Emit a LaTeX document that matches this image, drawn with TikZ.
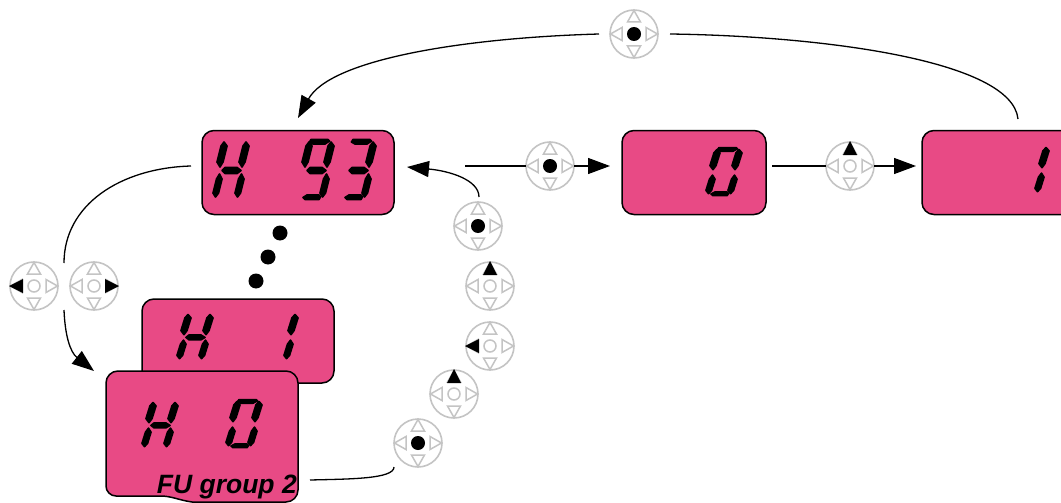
\documentclass[tikz,border=0pt]{standalone}
\usepackage{fontspec}
\setmainfont{Liberation Sans}
\usetikzlibrary{arrows.meta}
\definecolor{lcdpink}{HTML}{E84A85}
\definecolor{dialgray}{HTML}{C4C4C4}
\tikzset{
  display/.style={draw=black,line width=1.5pt,fill=lcdpink,rounded corners=12pt,inner sep=0pt},
  dialring/.style={circle,draw=dialgray,line width=1.6pt,fill=white,minimum size=48pt,inner sep=0pt},
  conn/.style={line width=1.3pt,draw=black},
  tipped/.style={conn,-{Triangle[length=22pt,width=16pt]}},
  seg/.style={fill=black,draw=black,line width=1.7pt,line join=round},
  dot/.style={circle,fill=black,minimum size=15pt,inner sep=0pt}
}
% seven-segment elements in local coordinates
\newcommand{\segU}{\path[seg] (-7,-28)--(-4,-24)--(-8,-8)--(-11,-3)--(-14,-8)--(-10,-24)--cycle;}
\newcommand{\segR}{\path[seg] (15,-28)--(18,-24)--(14,-8)--(11,-3)--(8,-8)--(12,-24)--cycle;}
\newcommand{\segL}{\path[seg] (-11.5,4)--(-9,9)--(-12.5,23)--(-15.5,27)--(-18,23)--(-14.5,9)--cycle;}
\newcommand{\segW}{\path[seg] (10.5,4)--(13,9)--(9.5,23)--(6.5,27)--(4,23)--(7.5,9)--cycle;}
\newcommand{\segM}{\path[seg] (-9,0.5)--(-6,-2.5)--(6,-2.5)--(10,0.5)--(6,3.5)--(-6,3.5)--cycle;}
\newcommand{\segT}{\path[seg] (-5,-30.5)--(12,-30.5)--(13.5,-29)--(9,-26)--(-3,-26)--(-6.5,-28)--cycle;}
\newcommand{\segB}{\path[seg] (-13,27.5)--(-9,25)--(3,25)--(4.5,27)--(3,29.5)--(-11,29.5)--cycle;}
\newcommand{\lcd}[4]{\begin{scope}[shift={(#1,#2)},yscale=#3]\foreach \s in {#4}{\csname seg\s\endcsname}\end{scope}}
% dial: name, x, y, active element (u,l,r,c)
\newcommand{\trigray}[1]{\draw[dialgray,line width=1.5pt,rotate=#1,fill=white] (0,-23.5)--(6.5,-12)--(-6.5,-12)--cycle;}
\newcommand{\tiblack}[1]{\fill[black,rotate=#1] (0,-25)--(7,-11)--(-7,-11)--cycle;}
\newcommand{\dial}[4]{%
  \node[dialring] (#1) at (#2,#3) {};
  \begin{scope}[shift={(#2,#3)}]
    \trigray{0}\trigray{90}\trigray{180}\trigray{270}
    \draw[dialgray,line width=1.5pt] (0,0) circle (6);
    \csname act#4\endcsname
  \end{scope}}
\newcommand{\actu}{\tiblack{0}}
\newcommand{\actl}{\tiblack{90}}
\newcommand{\actr}{\tiblack{270}}
\newcommand{\actc}{\fill[black] (0,0) circle (7);}
\begin{document}
\begin{tikzpicture}[x=1pt,y=-1pt]
\clip (0,0) rectangle (1061,503);
% displays
\node[display,minimum width=192pt,minimum height=84pt] (dA) at (298,172.5) {};
\node[display,minimum width=144pt,minimum height=84pt] (dB) at (694,172.5) {};
\node[display,minimum width=170pt,minimum height=84pt] (dC) at (1007,172.5) {};
\node[display,minimum width=192pt,minimum height=84pt] (dD) at (238,341) {};
\draw[black,line width=1.5pt,fill=lcdpink]
  (106,383) arc[start angle=180,end angle=270,radius=12] -- (286,371)
  arc[start angle=-90,end angle=0,radius=12] -- (298,490)
  arc[start angle=0,end angle=90,radius=12] -- (192,502)
  .. controls (178,500) and (172,496) .. (160,496) -- (116,496)
  arc[start angle=90,end angle=180,radius=10] -- cycle;
\node[font=\fontsize{26.5}{28}\selectfont\bfseries\itshape,anchor=base east,inner sep=0pt] (fu) at (297,493) {FU group 2};
% digits
\lcd{231}{170}{1}{U,L,R,W,M}
\lcd{316}{170}{1}{T,U,R,W,M,B}
\lcd{358}{170}{1}{T,R,W,M,B}
\lcd{724}{172}{0.8}{T,U,L,R,W,B}
\lcd{1031}{170}{0.8}{R,W}
\lcd{195}{337}{0.8}{U,L,R,W,M}
\lcd{280}{337}{0.8}{R,W}
\lcd{160}{425}{0.8}{U,L,R,W,M}
\lcd{244}{424}{0.8}{T,U,L,R,W,B}
% ellipsis dots
\node[dot] (p1) at (280,233) {};
\node[dot] (p2) at (268,257) {};
\node[dot] (p3) at (256,281) {};
% dials
\dial{k1}{634}{34}{c}
\dial{k2}{550}{166}{c}
\dial{k3}{850}{166}{u}
\dial{k4}{478}{226}{c}
\dial{k5}{490}{286}{u}
\dial{k6}{490}{346}{l}
\dial{k7}{454}{394}{u}
\dial{k8}{418}{443}{c}
\dial{k9}{34}{286}{l}
\dial{k10}{94}{286}{r}
% connector ends
\coordinate (a1) at (599,34);
\coordinate (a2) at (298,118);
\coordinate (b1) at (670,34);
\coordinate (b2) at (1018,119);
\coordinate (c1) at (191,166);
\coordinate (c2) at (64,263);
\coordinate (c3) at (64,310);
\coordinate (c4) at (94,371);
\coordinate (e1) at (479,197);
\coordinate (e2) at (407,167);
\coordinate (f1) at (465,166);
\coordinate (f2) at (526,166);
\coordinate (f3) at (574,166);
\coordinate (f4) at (610,166);
\coordinate (g1) at (772,166);
\coordinate (g2) at (826,166);
\coordinate (g3) at (874,166);
\coordinate (g4) at (916,166);
\coordinate (h1) at (310,480);
\coordinate (h2) at (394,467);
% connectors
\draw[tipped] (a1) .. controls (460,38) and (330,60) .. (a2);
\draw[conn] (b1) .. controls (820,36) and (1012,60) .. (b2);
\draw[conn] (c1) .. controls (120,168) and (64,205) .. (c2);
\draw[tipped] (c3) .. controls (65,335) and (70,352) .. (c4);
\draw[tipped] (e1) .. controls (479,180) and (450,171) .. (e2);
\draw[conn] (f1) -- (f2);
\draw[tipped] (f3) -- (f4);
\draw[conn] (g1) -- (g2);
\draw[tipped] (g3) -- (g4);
\draw[conn] (h1) .. controls (350,479) and (394,479) .. (h2);
\end{tikzpicture}
\end{document}
